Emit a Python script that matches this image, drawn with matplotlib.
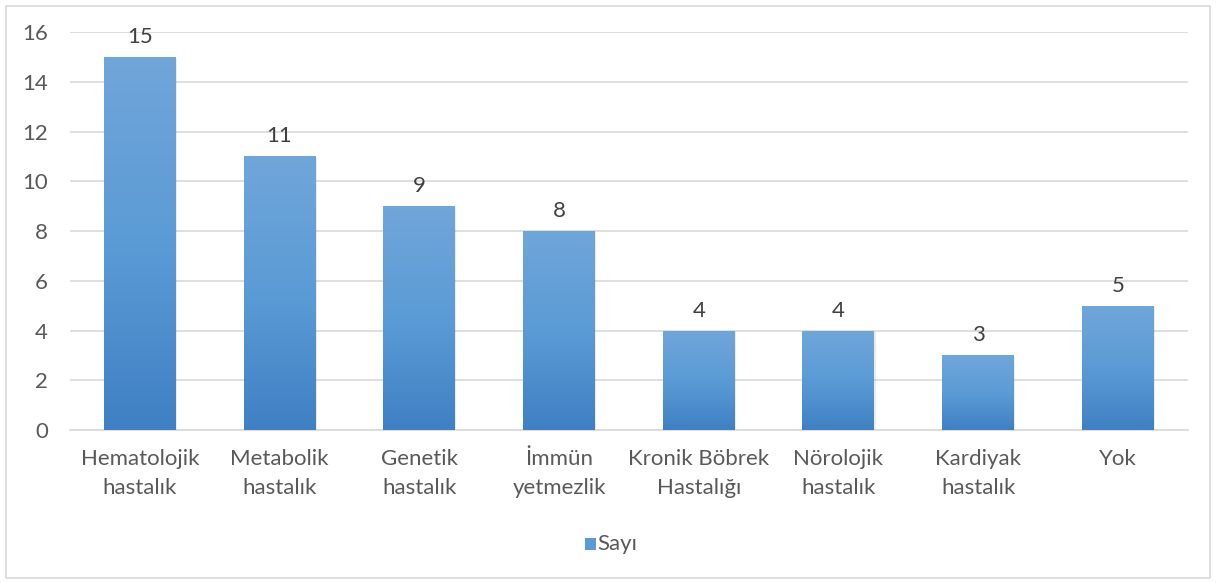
import numpy as np
import matplotlib.pyplot as plt
from matplotlib.colors import LinearSegmentedColormap
from matplotlib.patches import Rectangle

categories = ["Hematolojik\nhastalık", "Metabolik\nhastalık", "Genetik\nhastalık",
              "İmmün\nyetmezlik", "Kronik Böbrek\nHastalığı", "Nörolojik\nhastalık",
              "Kardiyak\nhastalık", "Yok"]
counts = [15, 11, 9, 8, 4, 4, 3, 5]
yticks = [0, 2, 4, 6, 8, 10, 12, 14, 16]

plt.rcParams['font.family'] = ['Lato', 'DejaVu Sans']
text_color = "#595959"
grid_color = "#d9d9d9"
fs = 16

fig = plt.figure(figsize=(12.17, 5.83), dpi=100)
ax = fig.add_axes([0.0575, 0.2624, 0.9185, 0.6827])

# vertical gradient used as bar fill (dark at bottom, light at top)
cmap = LinearSegmentedColormap.from_list("bar", ["#3f80c4", "#5b9bd5", "#70a6da"])
grad = np.linspace(0, 1, 256).reshape(-1, 1)

x = np.arange(len(categories))
width = 0.515
bars = ax.bar(x, counts, width=width, color="none", zorder=3)
for b, v in zip(bars, counts):
    x0 = b.get_x()
    # soft shadow behind the bar
    shadow = Rectangle((x0 + 0.006, 0), width + 0.002, v - 0.05, facecolor="#000000",
                       alpha=0.08, edgecolor="none", zorder=2)
    ax.add_patch(shadow)
    im = ax.imshow(grad, extent=(x0, x0 + width, 0, v), origin="lower", cmap=cmap,
                   aspect="auto", zorder=3)
    im.set_clip_path(b)
    ax.text(b.get_x() + width / 2, v + 0.4, str(v), ha="center", va="bottom",
            fontsize=fs, color="#404040")

ax.set_xlim(-0.5, len(categories) - 0.5)
ax.set_ylim(0, 16)
ax.set_yticks(yticks)
ax.set_xticks(x)
ax.set_xticklabels(categories, fontsize=fs, color=text_color, linespacing=1.55)
ax.tick_params(axis="y", labelsize=fs, labelcolor=text_color, length=0, pad=16)
ax.tick_params(axis="x", length=0, pad=14)
ax.grid(axis="y", color=grid_color, linewidth=1.2, zorder=0)
for side in ["top", "right", "left"]:
    ax.spines[side].set_visible(False)
ax.spines["bottom"].set_color(grid_color)
ax.spines["bottom"].set_linewidth(1.2)

# legend
fig.text(0.4905, 0.067, "Sayı", fontsize=fs, color=text_color, va="center", ha="left")
fig.patches.append(Rectangle((0.4805, 0.057), 0.0095, 0.02, transform=fig.transFigure,
                             facecolor="#5b9bd5", edgecolor="none"))

# chart border
fig.patches.append(Rectangle((0.005, 0.009), 0.989, 0.981, transform=fig.transFigure,
                             facecolor="none", edgecolor="#d9d9d9", linewidth=1.2))

fig.savefig("out.png", dpi=100)
